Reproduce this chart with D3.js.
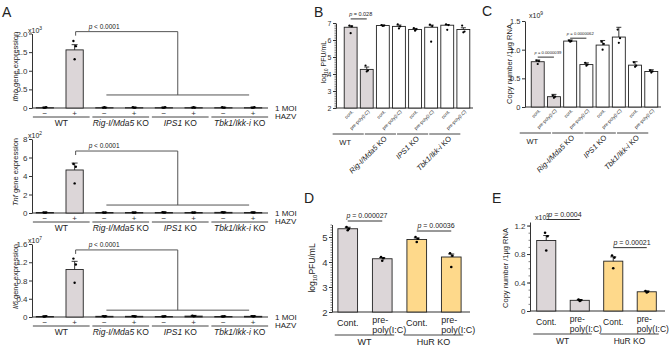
<!DOCTYPE html>
<html>
<head>
<meta charset="utf-8">
<script src="https://cdn.jsdelivr.net/npm/d3@7"></script>
<style>
  body { margin: 0; background: #fff; }
  svg { font-family: "Liberation Sans", Arial, sans-serif; }
</style>
</head>
<body>
<svg id="fig" width="670" height="346"></svg>
<script>
// ---- Panel A: gene expression after HAZV infection ----
const aGroups = ["WT", "Rig-I/Mda5 KO", "IPS1 KO", "Tbk1/Ikk-i KO"];
const aHazv = ["−", "+", "−", "+", "−", "+", "−", "+"];

const ifnbMean = [0.01, 1.56, 0.01, 0.01, 0.01, 0.01, 0.01, 0.01];
const ifnbErr  = [0.01, 0.14, 0.01, 0.01, 0.01, 0.01, 0.01, 0.01];
const ifnbPts  = [[0.01, 0.02, 0.01], [1.80, 1.66, 1.31], [0.01, 0.01, 0.02], [0.02, 0.01, 0.01],
                  [0.01, 0.02, 0.01], [0.01, 0.01, 0.02], [0.02, 0.01, 0.01], [0.01, 0.02, 0.01]];
const ifnbTicks = [0, 0.5, 1.0, 1.5, 2.0];

const tnfMean = [0.05, 4.65, 0.05, 0.05, 0.06, 0.05, 0.07, 0.06];
const tnfErr  = [0.03, 0.75, 0.03, 0.03, 0.04, 0.03, 0.04, 0.03];
const tnfPts  = [[0.06, 0.05, 0.04], [5.3, 5.0, 3.2], [0.06, 0.05, 0.04], [0.05, 0.06, 0.04],
                 [0.08, 0.06, 0.05], [0.06, 0.05, 0.04], [0.09, 0.07, 0.05], [0.07, 0.06, 0.05]];
const tnfTicks = [0, 2, 4, 6, 8];

const il6Mean = [0.01, 1.04, 0.015, 0.015, 0.01, 0.02, 0.01, 0.015];
const il6Err  = [0.01, 0.18, 0.01, 0.01, 0.01, 0.015, 0.01, 0.01];
const il6Pts  = [[0.01, 0.02, 0.01], [1.28, 1.15, 0.75], [0.02, 0.015, 0.01], [0.02, 0.01, 0.015],
                 [0.01, 0.015, 0.01], [0.03, 0.02, 0.015], [0.01, 0.015, 0.01], [0.02, 0.015, 0.01]];
const il6Ticks = [0, 0.4, 0.8, 1.2, 1.6];

// ---- Panels B, C: pre-poly(I:C) treatment in KO cells ----
const bcTreat = ["cont.", "pre-poly(I:C)", "cont.", "pre-poly(I:C)", "cont.", "pre-poly(I:C)", "cont.", "pre-poly(I:C)"];
const bcGroups = ["WT", "Rig-I/Mda5 KO", "IPS1 KO", "Tbk1/Ikk-i KO"];

const pfuMean = [6.75, 4.27, 6.85, 6.80, 6.62, 6.75, 6.87, 6.62];
const pfuErr  = [0.08, 0.14, 0.03, 0.08, 0.06, 0.13, 0.04, 0.10];
const pfuPts  = [[6.85, 6.80, 6.40], [4.50, 4.20, 4.15], [6.87, 6.85, 6.83], [6.92, 6.80, 6.68],
                 [6.70, 6.62, 6.55], [6.90, 6.82, 5.90], [6.92, 6.88, 6.60], [6.85, 6.50, 6.45]];
const pfuTicks = [2, 3, 4, 5, 6, 7];

const copyMean = [0.79, 0.18, 1.15, 0.74, 1.08, 1.22, 0.73, 0.62];
const copyErr  = [0.03, 0.04, 0.02, 0.03, 0.08, 0.17, 0.06, 0.03];
const copyPts  = [[0.81, 0.80, 0.75], [0.20, 0.18, 0.16], [1.16, 1.15, 1.14], [0.77, 0.74, 0.72],
                  [1.14, 1.10, 1.00], [1.35, 1.20, 1.12], [0.78, 0.72, 0.70], [0.64, 0.62, 0.60]];
const copyTicks = [0, 0.5, 1.0, 1.5];

// ---- Panels D, E: HuR KO ----
const deTreat = ["Cont.", "pre-poly(I:C)", "Cont.", "pre-poly(I:C)"];
const deGroups = ["WT", "HuR KO"];

const dMean = [5.33, 4.13, 4.90, 4.20];
const dErr  = [0.06, 0.05, 0.06, 0.12];
const dPts  = [[5.40, 5.33, 5.27], [4.20, 4.15, 4.05], [5.00, 4.93, 4.80], [4.35, 4.25, 3.80]];
const dTicks = [2, 3, 4, 5];

const eMean = [0.99, 0.15, 0.70, 0.27];
const eErr  = [0.07, 0.01, 0.06, 0.01];
const ePts  = [[1.10, 1.05, 0.85], [0.16, 0.15, 0.14], [0.78, 0.75, 0.60], [0.28, 0.27, 0.26]];
const eTicks = [0, 0.4, 0.8, 1.2];

const GREY = "#dcd6d8", YELLOW = "#fed98b", WHITE = "#fff", INK = "#222";
const jit = [-1.2, 1.2, 0];

const fig = d3.select("#fig");

function label(t, x, y) {
  fig.append("text").attr("x", x).attr("y", y).attr("font-size", 14).attr("fill", INK).text(t);
}

// group name, optional italic gene part
function richGroup(sel, name, italic) {
  if (italic && name.endsWith(" KO")) {
    sel.append("tspan").attr("font-style", "italic").text(name.slice(0, -3));
    sel.append("tspan").text(" KO");
  } else sel.text(name);
  return sel;
}

function pText(sel, rest) {
  sel.append("tspan").attr("font-style", "italic").text("p");
  sel.append("tspan").text(rest);
  return sel;
}

function expo(x, y, e, size) {
  const t = fig.append("text").attr("x", x).attr("y", y).attr("font-size", size).attr("fill", INK);
  t.append("tspan").text("x10");
  t.append("tspan").attr("dy", -size * 0.4).attr("font-size", size * 0.7).text(e);
}

function drawBars(g, x, y, mean, err, pts, fills, capW, r) {
  const bw = x.bandwidth();
  const y0 = y(y.domain()[0]);
  mean.forEach((m, i) => {
    const cx = x(i) + bw / 2;
    g.append("rect").attr("x", x(i)).attr("y", y(m)).attr("width", bw)
      .attr("height", Math.max(0, y0 - y(m))).attr("fill", fills[i]).attr("stroke", INK).attr("stroke-width", 0.9);
    g.append("line").attr("x1", cx).attr("x2", cx).attr("y1", y(m)).attr("y2", y(m + err[i]))
      .attr("stroke", INK).attr("stroke-width", 0.9);
    g.append("line").attr("x1", cx - capW / 2).attr("x2", cx + capW / 2)
      .attr("y1", y(m + err[i])).attr("y2", y(m + err[i])).attr("stroke", INK).attr("stroke-width", 0.9);
    pts[i].forEach((p, j) => {
      g.append("circle").attr("cx", cx + jit[j]).attr("cy", y(p)).attr("r", r).attr("fill", "#000");
    });
  });
}

function yAxis(g, y, ax, ticks, fmt, size, minorStep) {
  g.append("g").attr("transform", `translate(${ax},0)`)
    .call(d3.axisLeft(y).tickValues(ticks).tickFormat(fmt).tickSize(3).tickSizeOuter(0).tickPadding(1.5))
    .call(s => s.selectAll("text").attr("font-size", size).attr("fill", "#333").attr("font-family", null))
    .call(s => s.selectAll("line,path").attr("stroke", "#333"));
  if (minorStep) {
    const [a, b] = y.domain();
    const minor = d3.range(a, b + 1e-9, minorStep);
    g.append("g").attr("transform", `translate(${ax},0)`)
      .call(d3.axisLeft(y).tickValues(minor).tickFormat("").tickSize(1.5).tickSizeOuter(0))
      .call(s => s.select("path").remove())
      .call(s => s.selectAll("line").attr("stroke", "#333").attr("stroke-width", 0.6));
  }
}

// ================= Panel A =================
label("A", 2, 17);
const xA = d3.scaleBand().domain(d3.range(8)).range([30, 268]).paddingInner(0.42).paddingOuter(0.21);

function panelA(cfg) {
  const y = d3.scaleLinear().domain(cfg.domain).range([cfg.y0, cfg.yTop]);
  const g = fig.append("g");
  const c = i => xA(i) + xA.bandwidth() / 2;
  yAxis(g, y, 32, cfg.ticks, cfg.fmt, 8, null);
  g.append("line").attr("x1", 32).attr("x2", 268).attr("y1", cfg.y0).attr("y2", cfg.y0)
    .attr("stroke", "#333");
  drawBars(g, xA, y, cfg.mean, cfg.err, cfg.pts, cfg.mean.map((d, i) => i === 1 ? GREY : WHITE), 6, 1.2);

  // y label
  const yl = g.append("text").attr("transform", `translate(18,${(cfg.y0 + cfg.yTop) / 2 - 4}) rotate(-90)`)
    .attr("text-anchor", "middle").attr("font-size", 7.5).attr("fill", INK);
  yl.append("tspan").attr("font-style", "italic").text(cfg.gene);
  yl.append("tspan").text(" gene expression");
  expo(28, cfg.yTop - 1, cfg.exp, 7);

  // HAZV +/- and groups
  aHazv.forEach((t, i) => {
    g.append("text").attr("x", c(i)).attr("y", cfg.y0 + 7.5).attr("text-anchor", "middle")
      .attr("font-size", 8).attr("fill", "#333").text(t);
  });
  aGroups.forEach((name, k) => {
    const x1 = c(2 * k) - 12, x2 = c(2 * k + 1) + 15;
    g.append("line").attr("x1", x1).attr("x2", x2).attr("y1", cfg.y0 + 9).attr("y2", cfg.y0 + 9)
      .attr("stroke", "#444");
    richGroup(g.append("text").attr("x", (x1 + x2) / 2).attr("y", cfg.y0 + 17.5).attr("text-anchor", "middle")
      .attr("font-size", 8.5).attr("fill", INK), name, true);
  });
  g.append("text").attr("x", 275).attr("y", cfg.y0 + 3).attr("font-size", 8).attr("fill", INK).text("1 MOI");
  g.append("text").attr("x", 275).attr("y", cfg.y0 + 11).attr("font-size", 8).attr("fill", INK).text("HAZV");

  // significance bracket
  const xs = c(2) + 2, xe = c(7) - 4, xm = (xs + xe) / 2;
  const yt = y(cfg.bTop), yb = y(cfg.bBot);
  g.append("path").attr("d", `M${c(1) + 1},${yt + 4}V${yt}H${xm}V${yb}`)
    .attr("fill", "none").attr("stroke", "#555");
  g.append("line").attr("x1", xs).attr("x2", xe).attr("y1", yb).attr("y2", yb).attr("stroke", "#555");
  pText(g.append("text").attr("x", c(1) + 14).attr("y", yt - 3).attr("font-size", 6.5).attr("fill", INK), " < 0.0001");
}

panelA({ domain: [0, 2], y0: 108, yTop: 33.5, ticks: ifnbTicks, fmt: d => d === 0 ? "0" : d.toFixed(1),
  mean: ifnbMean, err: ifnbErr, pts: ifnbPts, gene: "Ifnb", exp: "3", bTop: 2.05, bBot: 0.35 });
panelA({ domain: [0, 8], y0: 213, yTop: 139, ticks: tnfTicks, fmt: d3.format("d"),
  mean: tnfMean, err: tnfErr, pts: tnfPts, gene: "Tnf", exp: "2", bTop: 6.7, bBot: 0.86 });
panelA({ domain: [0, 1.6], y0: 317, yTop: 244, ticks: il6Ticks, fmt: d => d === 0 ? "0" : d.toFixed(1),
  mean: il6Mean, err: il6Err, pts: il6Pts, gene: "Il6", exp: "7", bTop: 1.47, bBot: 0.15 });

// ================= Panels B, C =================
function panelBC(cfg) {
  const x = d3.scaleBand().domain(d3.range(8)).range(cfg.xr).padding(0.2);
  const y = d3.scaleLinear().domain(cfg.domain).range([cfg.y0, cfg.yTop]);
  const c = i => x(i) + x.bandwidth() / 2;
  const g = fig.append("g");
  yAxis(g, y, cfg.ax, cfg.ticks, cfg.fmt, cfg.tickSize, cfg.minor);
  g.append("line").attr("x1", cfg.ax).attr("x2", cfg.xr[1]).attr("y1", cfg.y0).attr("y2", cfg.y0).attr("stroke", "#333");
  drawBars(g, x, y, cfg.mean, cfg.err, cfg.pts, cfg.mean.map((d, i) => i < 2 ? GREY : WHITE), 5, 1.1);

  bcTreat.forEach((t, i) => {
    g.append("text").attr("transform", `translate(${c(i) + 3},${cfg.y0 + 4}) rotate(-45)`)
      .attr("text-anchor", "end").attr("font-size", 4.6).attr("fill", INK).text(t);
  });
  bcGroups.forEach((name, k) => {
    const x1 = c(2 * k) - 18, x2 = c(2 * k + 1) - 3, xc = (x1 + x2) / 2;
    g.append("line").attr("x1", x1).attr("x2", x2).attr("y1", cfg.y0 + 26).attr("y2", cfg.y0 + 26).attr("stroke", "#444");
    if (k === 0) {
      g.append("text").attr("x", xc - 3).attr("y", cfg.y0 + 37).attr("text-anchor", "middle")
        .attr("font-size", 7.5).attr("fill", INK).text(name);
    } else {
      richGroup(g.append("text").attr("transform", `translate(${xc + 7},${cfg.y0 + 31}) rotate(-45)`)
        .attr("text-anchor", "end").attr("font-size", 7.5).attr("fill", INK), name, true);
    }
  });
  cfg.pvals.forEach(p => {
    const x1 = c(p.a), x2 = c(p.b), yy = y(p.v);
    g.append("line").attr("x1", x1).attr("x2", x2).attr("y1", yy).attr("y2", yy).attr("stroke", "#333");
    pText(g.append("text").attr("x", (x1 + x2) / 2 + 2).attr("y", yy - 3).attr("text-anchor", "middle")
      .attr("font-size", cfg.pSize).attr("fill", INK), " = " + p.t);
  });
  return g;
}

label("B", 314, 17);
panelBC({ xr: [341, 473], ax: 336, domain: [2, 7], y0: 108, yTop: 23, ticks: pfuTicks, fmt: d3.format("d"),
  tickSize: 7, minor: 0.1, mean: pfuMean, err: pfuErr, pts: pfuPts, pSize: 5.5,
  pvals: [{ a: 0, b: 1, v: 7.24, t: "0.028" }] });
{
  const t = fig.append("text").attr("transform", "translate(326,62) rotate(-90)").attr("text-anchor", "middle")
    .attr("font-size", 7).attr("fill", INK);
  t.append("tspan").text("log");
  t.append("tspan").attr("font-size", 5).attr("dy", 2).text("10");
  t.append("tspan").attr("dy", -2).text(" PFU/mL");
}

label("C", 482, 16);
panelBC({ xr: [528, 661], ax: 525, domain: [0, 1.5], y0: 107, yTop: 21, ticks: copyTicks,
  fmt: d => d === 0 ? "0" : d.toFixed(1), tickSize: 7.5, minor: null, mean: copyMean, err: copyErr, pts: copyPts,
  pSize: 4.2, pvals: [{ a: 0, b: 1, v: 0.87, t: "0.0000039" }, { a: 2, b: 3, v: 1.2, t: "0.0000062" }] });
fig.append("text").attr("transform", "translate(512,64) rotate(-90)").attr("text-anchor", "middle")
  .attr("font-size", 7.5).attr("fill", INK).text("Copy number /1μg  RNA");
expo(529, 18, "9", 7);

// ================= Panels D, E =================
function panelDE(cfg) {
  const x = d3.scaleBand().domain(d3.range(4)).range(cfg.xr).paddingInner(0.43).paddingOuter(0.2);
  const y = d3.scaleLinear().domain(cfg.domain).range([cfg.y0, cfg.yTop]);
  const c = i => x(i) + x.bandwidth() / 2;
  const g = fig.append("g");
  yAxis(g, y, cfg.ax, cfg.ticks, cfg.fmt, cfg.tickSize, cfg.minor);
  g.append("line").attr("x1", cfg.ax).attr("x2", cfg.xr[1] + 2).attr("y1", cfg.y0).attr("y2", cfg.y0).attr("stroke", "#333");
  drawBars(g, x, y, cfg.mean, cfg.err, cfg.pts, [GREY, GREY, YELLOW, YELLOW], 6, 1.3);

  deTreat.forEach((t, i) => {
    if (t === "Cont.") {
      g.append("text").attr("x", c(i)).attr("y", cfg.y0 + 14).attr("text-anchor", "middle")
        .attr("font-size", cfg.lab).attr("fill", INK).text(t);
    } else {
      const [a, b] = t.split("-");
      g.append("text").attr("x", c(i) - 10).attr("y", cfg.y0 + 11).attr("font-size", cfg.lab).attr("fill", INK).text(a + "-");
      g.append("text").attr("x", c(i) - 10).attr("y", cfg.y0 + 21).attr("font-size", cfg.lab).attr("fill", INK).text(b);
    }
  });
  deGroups.forEach((name, k) => {
    const x1 = c(2 * k) - 13, x2 = c(2 * k + 1) + 12;
    g.append("line").attr("x1", x1).attr("x2", x2).attr("y1", cfg.y0 + 23).attr("y2", cfg.y0 + 23).attr("stroke", "#444");
    g.append("text").attr("x", (x1 + x2) / 2).attr("y", cfg.y0 + 33).attr("text-anchor", "middle")
      .attr("font-size", cfg.lab).attr("fill", INK).text(name);
  });
  cfg.pvals.forEach(p => {
    const x1 = c(p.a), x2 = c(p.b), yy = y(p.v);
    g.append("line").attr("x1", x1).attr("x2", x2).attr("y1", yy).attr("y2", yy).attr("stroke", "#333");
    pText(g.append("text").attr("x", (x1 + x2) / 2 + 2).attr("y", yy - 3).attr("text-anchor", "middle")
      .attr("font-size", 7).attr("fill", INK), " = " + p.t);
  });
}

label("D", 304, 203);
panelDE({ xr: [331, 468], ax: 332, domain: [2, 5.5], y0: 312, yTop: 224.5, ticks: dTicks, fmt: d3.format("d"),
  tickSize: 9.5, minor: 0.1, mean: dMean, err: dErr, pts: dPts, lab: 9,
  pvals: [{ a: 0, b: 1, v: 5.64, t: "0.000027" }, { a: 2, b: 3, v: 5.24, t: "0.00036" }] });
{
  const t = fig.append("text").attr("transform", "translate(315,268) rotate(-90)").attr("text-anchor", "middle")
    .attr("font-size", 8.5).attr("fill", INK);
  t.append("tspan").text("log");
  t.append("tspan").attr("font-size", 6).attr("dy", 2).text("10");
  t.append("tspan").attr("dy", -2).text("PFU/mL");
}

label("E", 492, 203);
panelDE({ xr: [530, 663], ax: 530, domain: [0, 1.25], y0: 311, yTop: 222, ticks: eTicks,
  fmt: d => d === 0 ? "0" : d.toFixed(1), tickSize: 8, minor: 0.1, mean: eMean, err: eErr, pts: ePts, lab: 8.5,
  pvals: [{ a: 0, b: 1, v: 1.285, t: "0.0004" }, { a: 2, b: 3, v: 0.89, t: "0.00021" }] });
fig.append("text").attr("transform", "translate(508,268) rotate(-90)").attr("text-anchor", "middle")
  .attr("font-size", 7.5).attr("fill", INK).text("Copy number /1μg  RNA");
expo(535, 220, "9", 7);
</script>
</body>
</html>
